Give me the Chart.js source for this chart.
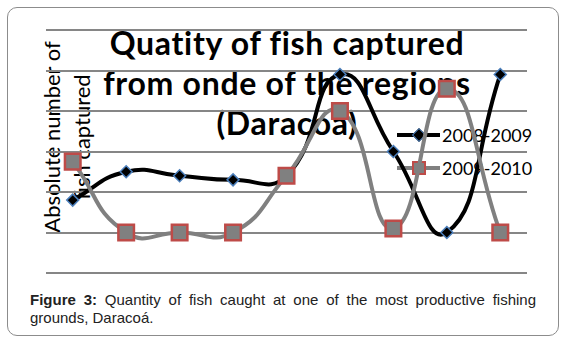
<!DOCTYPE html>
<html lang="en">
<head>
  <meta charset="UTF-8">
  <script src="https://cdn.jsdelivr.net/npm/chart.js"></script>
  <style>
    body {
      margin: 0;
      background: #ffffff;
    }

    #wrap {
      position: relative;
      width: 565px;
      height: 342px;
      overflow: hidden;
    }

    #frame {
      position: absolute;
      left: 7px;
      top: 7px;
      width: 552px;
      height: 329px;
      box-sizing: border-box;
      border: 1px solid #8c8c8c;
      border-radius: 10px;
    }

    #title {
      position: absolute;
      left: 67px;
      top: 23px;
      width: 440px;
      text-align: center;
      font-family: 'Lato', sans-serif;
      font-weight: bold;
      font-size: 32px;
      letter-spacing: 0.7px;
      line-height: 40px;
      color: #000;
      white-space: nowrap;
    }

    #ytitle {
      position: absolute;
      left: -33px;
      top: 107px;
      width: 200px;
      height: 60px;
      text-align: center;
      font-family: 'Lato', sans-serif;
      font-size: 22px;
      line-height: 30px;
      color: #000;
      transform: rotate(-90deg);
      white-space: nowrap;
    }

    .leg {
      position: absolute;
      left: 397px;
      height: 24px;
      width: 160px;
    }

    .leg .bar {
      position: absolute;
      left: 0;
      top: 10px;
      width: 43px;
      height: 4px;
    }

    .leg .mk {
      position: absolute;
      box-sizing: border-box;
    }

    .leg span {
      position: absolute;
      left: 45px;
      top: 0;
      font-family: 'Lato', sans-serif;
      font-size: 18px;
      line-height: 24px;
      color: #000;
    }

    #caption {
      position: absolute;
      left: 30px;
      top: 291px;
      width: 506px;
      font-family: 'Liberation Sans', Arial, sans-serif;
      font-size: 15px;
      line-height: 18px;
      color: #222;
    }

    #caption .l1 {
      text-align: justify;
      text-align-last: justify;
      white-space: nowrap;
    }

    canvas {
      position: absolute;
      left: 0;
      top: 0;
      z-index: 2;
    }
  </style>
  <title>Quatity of fish captured</title>
</head>

<body>
  <div id="wrap">
    <div id="frame"></div>
    <div id="title">Quatity of fish captured<br>from onde of the regions<br>(Daracoá)</div>
    <div id="ytitle">Absolute number of<br>fish captured</div>
    <div class="leg" style="top:123px">
      <div class="bar" style="background:#000"></div>
      <div class="mk" style="left:17px;top:7px;width:10px;height:10px;background:#000;border:1.5px solid #4a7ebb;transform:rotate(45deg)"></div>
      <span id="leg1"></span>
    </div>
    <div class="leg" style="top:156px">
      <div class="bar" style="background:#808080"></div>
      <div class="mk" style="left:15px;top:5px;width:14px;height:14px;background:#808080;border:2px solid #be4b48"></div>
      <span id="leg2"></span>
    </div>
    <canvas id="chart" width="565" height="342"></canvas>
    <div id="caption">
      <div class="l1"><b>Figure 3:</b> Quantity of fish caught at one of the most productive fishing</div>
      <div>grounds, Daracoá.</div>
    </div>
  </div>
  <script>
    const categories = ['1', '2', '3', '4', '5', '6', '7', '8', '9'];
    const seriesNames = ['2008-2009', '2009-2010'];
    const catch0809 = [18, 25, 24, 23, 24, 49, 30, 10, 49];
    const catch0910 = [27.5, 10, 10, 10, 24, 40, 11, 45.5, 10];

    document.getElementById('leg1').textContent = seriesNames[0];
    document.getElementById('leg2').textContent = seriesNames[1];

    const ctx = document.getElementById('chart').getContext('2d');
    new Chart(ctx, {
      type: 'line',
      data: {
        labels: categories,
        datasets: [{
          label: seriesNames[0],
          data: catch0809,
          borderColor: '#000000',
          borderWidth: 4,
          pointStyle: 'rectRot',
          pointRadius: 6,
          pointBackgroundColor: '#000000',
          pointBorderColor: '#4a7ebb',
          pointBorderWidth: 1.5,
          tension: 0.5,
          clip: false,
          order: 1
        }, {
          label: seriesNames[1],
          data: catch0910,
          borderColor: '#808080',
          borderWidth: 4,
          pointStyle: 'rect',
          pointRadius: 11,
          pointBackgroundColor: '#808080',
          pointBorderColor: '#be4b48',
          pointBorderWidth: 2.5,
          tension: 0.5,
          clip: false,
          order: 0
        }]
      },
      options: {
        responsive: false,
        animation: false,
        layout: {
          padding: { left: 46, right: 38, top: 30, bottom: 69 }
        },
        plugins: {
          legend: { display: false },
          title: { display: false },
          tooltip: { enabled: false }
        },
        scales: {
          x: {
            type: 'category',
            offset: true,
            display: false
          },
          y: {
            min: 0,
            max: 60,
            ticks: { stepSize: 10, display: false },
            grid: { color: '#868686', lineWidth: 2, drawTicks: false },
            border: { display: false }
          }
        }
      }
    });
  </script>
</body>
</html>
